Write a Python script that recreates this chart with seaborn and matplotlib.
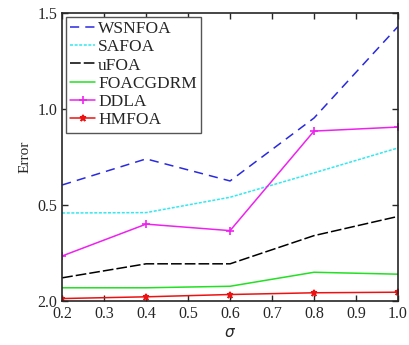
import matplotlib
matplotlib.use("Agg")
import matplotlib.pyplot as plt
import seaborn as sns
import pandas as pd

#data
sigma = [0.2, 0.4, 0.6, 0.8, 1.0]
wsnfoa = [0.604, 0.74, 0.625, 0.953, 1.43]
safoa = [0.458, 0.46, 0.54, 0.667, 0.797]
ufoa = [0.12, 0.193, 0.193, 0.34, 0.44]
foacgdrm = [0.068, 0.068, 0.076, 0.149, 0.139]
ddla = [0.234, 0.40, 0.366, 0.885, 0.906]
hmfoa = [0.012, 0.021, 0.033, 0.042, 0.045]
names = ["WSNFOA", "SAFOA", "uFOA", "FOACGDRM", "DDLA", "HMFOA"]
yticks = [0.0, 0.5, 1.0, 1.5]
ytick_labels = ["2.0", "0.5", "1.0", "1.5"]

sns.set_style("ticks")
plt.rcParams['font.family'] = ['Liberation Serif', 'DejaVu Serif']

fig = plt.figure(figsize=(4.09, 3.45), dpi=100)
ax = fig.add_axes([0.152, 0.128, 0.821, 0.834])

series = [wsnfoa, safoa, ufoa, foacgdrm, ddla, hmfoa]
styles = [
    dict(color="#2a2ae0", dashes=(6, 4), marker=None),
    dict(color="#33e8f0", dashes=(2, 1), marker=None),
    dict(color="black", dashes=(7, 2), marker=None),
    dict(color="#22e022", dashes=None, marker=None),
    dict(color="#ee22ee", dashes=None, marker="+"),
    dict(color="#ee1111", dashes=None, marker="*"),
]
for name, vals, st in zip(names, series, styles):
    df = pd.DataFrame({"sigma": sigma, "err": vals})
    kw = dict(x="sigma", y="err", data=df, ax=ax, color=st["color"], label=name, lw=1.1)
    if st["marker"]:
        kw["marker"] = st["marker"]
        kw["markersize"] = 6 if st["marker"] == "+" else 5
        kw["markeredgewidth"] = 1.2
        kw["markeredgecolor"] = st["color"]
    line = sns.lineplot(**kw).lines[-1]
    if st["dashes"]:
        line.set_dashes(st["dashes"])

ax.set_xlim(0.2, 1.0)
ax.set_ylim(0, 1.5)
ax.set_xticks([0.2, 0.3, 0.4, 0.5, 0.6, 0.7, 0.8, 0.9, 1.0])
ax.set_yticks(yticks)
ax.set_yticklabels(ytick_labels)
ax.tick_params(direction="in", top=True, right=True, labelsize=11.5, length=4, width=1)
for s in ax.spines.values():
    s.set_linewidth(1.2)
ax.set_xlabel(r"$\sigma$", fontsize=11, labelpad=4)
ax.set_ylabel("Error", fontsize=11)

leg = ax.legend(loc="upper left", fontsize=12.5, handlelength=1.45, handletextpad=0.17,
                borderpad=0.25, labelspacing=0.12, fancybox=False, framealpha=1,
                borderaxespad=0.2)
leg.get_frame().set_edgecolor("#555555")
leg.get_frame().set_linewidth(1.0)

fig.savefig("out.png", dpi=100)
